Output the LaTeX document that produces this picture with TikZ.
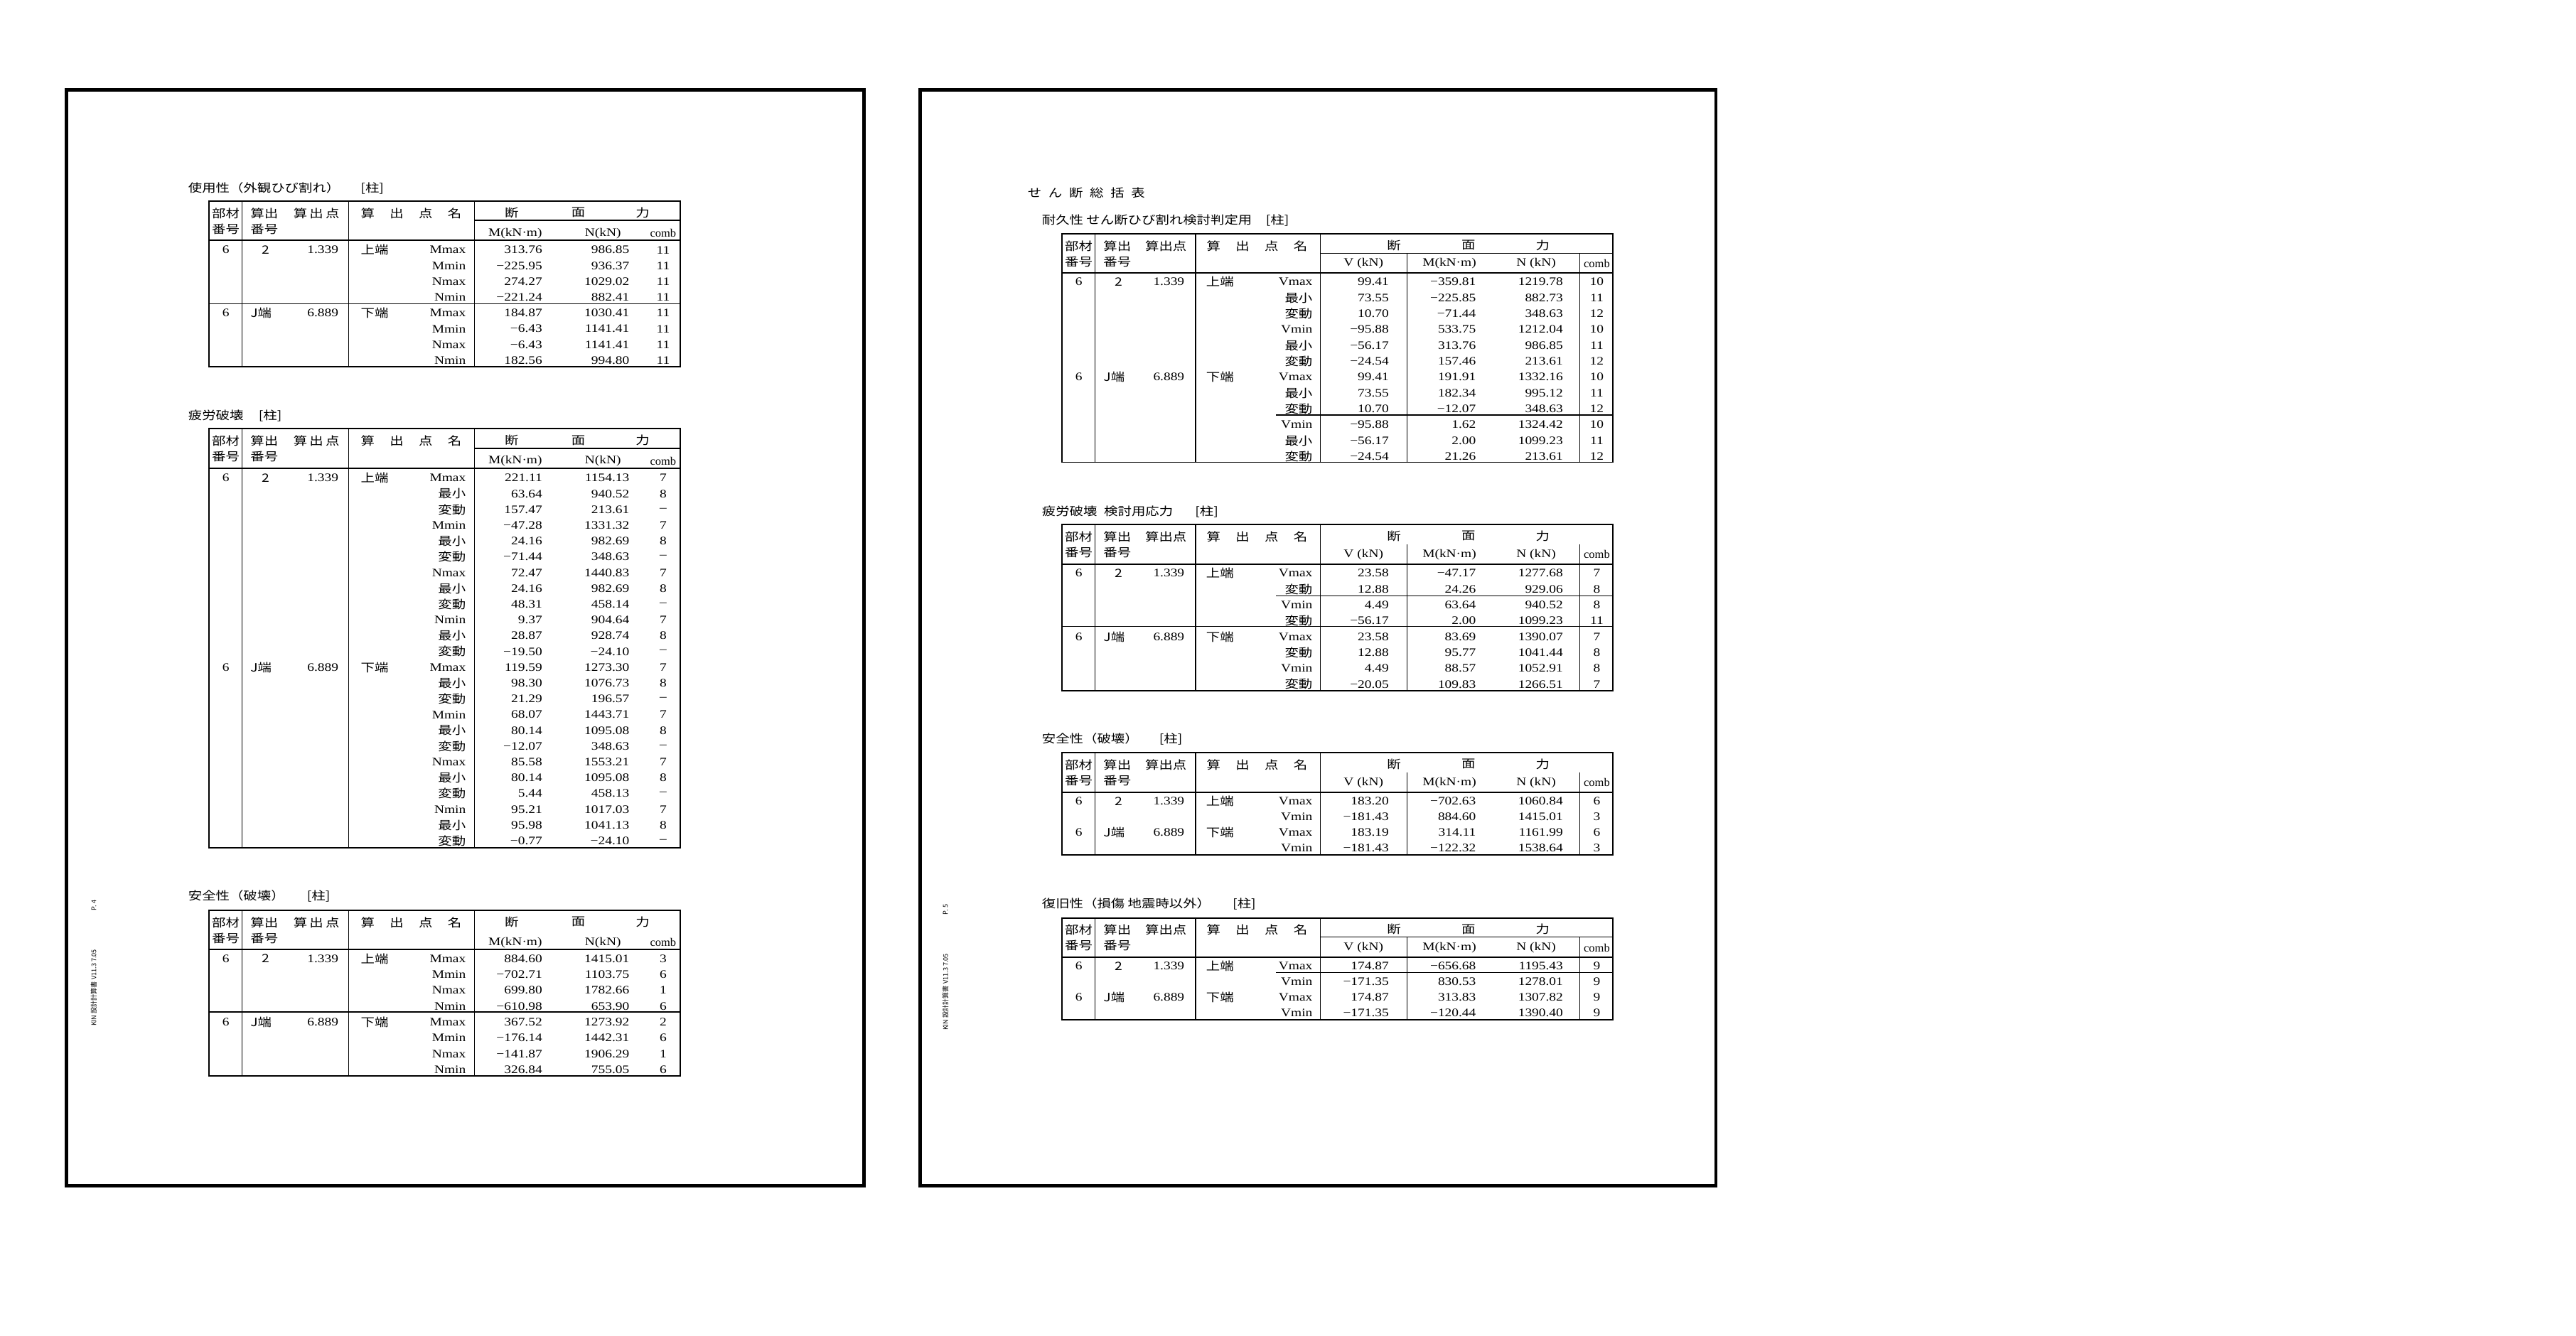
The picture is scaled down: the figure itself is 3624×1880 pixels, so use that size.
\documentclass[tikz,border=0pt]{standalone}
\usepackage{fontspec}
\setmainfont{Liberation Serif}
\newfontfamily\jp{Noto Sans CJK JP}
\usetikzlibrary{positioning}
\newcommand\saisho{{\jp 最小}}
\newcommand\hendo{{\jp 変動}}
\tikzset{
    pagebox/.style={
        draw,
        line width=1.4pt,
    },
    frame/.style={
        line width=0.55pt,
    },
    rule/.style={
        line width=0.3pt,
    },
    txt/.style={
        inner sep=0pt,
        font=\fontsize{4.6}{5.5}\selectfont,
        xscale=1.2,
    },
    jtxt/.style={
        txt,
        font=\fontsize{4.6}{5.5}\selectfont\jp,
    },
    num/.style={txt, anchor=east},
    combtxt/.style={txt, xscale=0.85},
    title/.style={jtxt, anchor=west},
    sidetxt/.style={
        inner sep=0pt,
        rotate=90,
        font=\fontsize{2.6}{3}\selectfont\jp,
    },
}
\begin{document}
\begin{tikzpicture}[x=0.01cm, y=-0.01cm]
      \useasboundingbox (0,0) rectangle (3624,1880);
      % two pages
      \draw[pagebox] (93.8,126.5) rectangle (1215.8,1668.5);
      \draw[pagebox] (1294.4,126.5) rectangle (2414,1668.5);
      \node[sidetxt] (pnoL) at (132,1274) {P. 4};
      \node[sidetxt] (footL) at (132,1390) {KIN 設計計算書 V11.3 7.05};
      \node[sidetxt] (pnoR) at (1330,1280) {P. 5};
      \node[sidetxt] (footR) at (1330,1396) {KIN 設計計算書 V11.3 7.05};

      % left page titles
      \node[title] (tA) at (264,265) {使用性（外観ひび割れ）\hspace{1.5em}[柱]};
      \node[title] (tB) at (264,585) {疲労破壊\hspace{1.1em}[柱]};
      \node[title] (tC) at (264,1260.7) {安全性（破壊）\hspace{1.6em}[柱]};

      % left page frames
      \foreach \t/\ty/\by in {A/282.7/516, B/603.3/1192.7, C/1280.7/1514}{
        \draw[frame] (294.3,\ty) rectangle (956.8,\by);
        \draw[frame] (294.3,{\ty+55.3}) -- (956.8,{\ty+55.3});
        \foreach \xx in {340.5,490.9,667.1} \draw[rule] (\xx,\ty) -- (\xx,\by);
        \node[jtxt] (\t-h1) at (317.6,{\ty+17.5}) {部材};
        \node[jtxt] (\t-h2) at (317.6,{\ty+39.5}) {番号};
        \node[jtxt, anchor=west] (\t-h3) at (351.5,{\ty+17.5}) {算出};
        \node[jtxt, anchor=west] (\t-h4) at (351.5,{\ty+39.5}) {番号};
        \node[jtxt] (\t-h5) at (445.1,{\ty+17.5}) {算\,出\,点};
        \node[jtxt] (\t-h6) at (578.5,{\ty+17.5}) {算\hspace{1.1em}出\hspace{1.1em}点\hspace{1.1em}名};
        \node[jtxt] (\t-h7) at (719.8,{\ty+16.5}) {断};
        \node[jtxt] (\t-h8) at (813.5,{\ty+16.5}) {面};
        \node[jtxt] (\t-h9) at (904,{\ty+16.5}) {力};
        \node[txt] (\t-hm) at (724.8,{\ty+45.5}) {M(kN·m)};
        \node[txt] (\t-hn) at (848.3,{\ty+45.5}) {N(kN)};
        \node[combtxt] (\t-hc) at (932.9,{\ty+45.5}) {comb};
      }
      \draw[rule] (667.1,310) -- (956.8,310);
      \draw[rule] (667.1,631) -- (956.8,631);
      \draw[rule] (294.3,427.3) -- (956.8,427.3);
      \draw[rule] (294.3,1424) -- (956.8,1424);

      % left page data
      \foreach \t/\ry/\ra/\px/\pa/\rb/\rc in {A/351.7/2/373.4/center/1.339/上端,
          A/440.5/J端/351.5/west/6.889/下端, B/672.7/2/373.4/center/1.339/上端,
          B/939.3/J端/351.5/west/6.889/下端, C/1349/2/373.4/center/1.339/上端,
          C/1438.3/J端/351.5/west/6.889/下端}{
        \node[txt] (\t-no\ry) at (317.6,\ry) {6};
        \node[jtxt, anchor=\pa] (\t-pt\ry) at (\px,\ry) {\ra};
        \node[num] (\t-x\ry) at (476.9,\ry) {\rb};
        \node[jtxt, anchor=west] (\t-nm\ry) at (506.8,\ry) {\rc};
      }
      \foreach \lab/\mv/\nv/\cb [count=\i] in {Mmax/313.76/986.85/11, Mmin/−225.95/936.37/11,
          Nmax/274.27/1029.02/11, Nmin/−221.24/882.41/11, Mmax/184.87/1030.41/11,
          Mmin/−6.43/1141.41/11, Nmax/−6.43/1141.41/11, Nmin/182.56/994.80/11}{
        \pgfmathsetmacro\ry{351.7+(\i-1)*22.2}
        \node[num] (A-l\i) at (656.1,\ry) {\lab};
        \node[num] (A-m\i) at (763.6,\ry) {\mv};
        \node[num] (A-n\i) at (886.1,\ry) {\nv};
        \node[txt] (A-c\i) at (932.9,\ry) {\cb};
      }
      \foreach \lab/\mv/\nv/\cb [count=\i] in {Mmax/221.11/1154.13/7, \saisho/63.64/940.52/8,
          \hendo/157.47/213.61/–, Mmin/−47.28/1331.32/7, \saisho/24.16/982.69/8,
          \hendo/−71.44/348.63/–, Nmax/72.47/1440.83/7, \saisho/24.16/982.69/8,
          \hendo/48.31/458.14/–, Nmin/9.37/904.64/7, \saisho/28.87/928.74/8,
          \hendo/−19.50/−24.10/–, Mmax/119.59/1273.30/7, \saisho/98.30/1076.73/8,
          \hendo/21.29/196.57/–, Mmin/68.07/1443.71/7, \saisho/80.14/1095.08/8,
          \hendo/−12.07/348.63/–, Nmax/85.58/1553.21/7, \saisho/80.14/1095.08/8,
          \hendo/5.44/458.13/–, Nmin/95.21/1017.03/7, \saisho/95.98/1041.13/8,
          \hendo/−0.77/−24.10/–}{
        \pgfmathsetmacro\ry{672.7+(\i-1)*22.2}
        \node[num] (B-l\i) at (656.1,\ry) {\lab};
        \node[num] (B-m\i) at (763.6,\ry) {\mv};
        \node[num] (B-n\i) at (886.1,\ry) {\nv};
        \node[txt] (B-c\i) at (932.9,\ry) {\cb};
      }
      \foreach \lab/\mv/\nv/\cb [count=\i] in {Mmax/884.60/1415.01/3, Mmin/−702.71/1103.75/6,
          Nmax/699.80/1782.66/1, Nmin/−610.98/653.90/6, Mmax/367.52/1273.92/2,
          Mmin/−176.14/1442.31/6, Nmax/−141.87/1906.29/1, Nmin/326.84/755.05/6}{
        \pgfmathsetmacro\ry{1349+(\i-1)*22.3}
        \node[num] (C-l\i) at (656.1,\ry) {\lab};
        \node[num] (C-m\i) at (763.6,\ry) {\mv};
        \node[num] (C-n\i) at (886.1,\ry) {\nv};
        \node[txt] (C-c\i) at (932.9,\ry) {\cb};
      }

      % right page titles
      \node[title] (tSum) at (1445,271.7) {せ\hspace{.5em}ん\hspace{.5em}断\hspace{.5em}総\hspace{.5em}括\hspace{.5em}表};
      \node[title] (tD) at (1465,310) {耐久性 せん断ひび割れ検討判定用\hspace{1em}[柱]};
      \node[title] (tE) at (1465,720) {疲労破壊\hspace{.5em}検討用応力\hspace{1.6em}[柱]};
      \node[title] (tF) at (1465,1040) {安全性（破壊）\hspace{1.5em}[柱]};
      \node[title] (tG) at (1465,1271.7) {復旧性（損傷 地震時以外）\hspace{1.6em}[柱]};

      % right page frames
      \foreach \t/\ty/\by in {D/329/650.5, E/738.3/971.7, F/1059.3/1203.3, G/1291.7/1435}{
        \draw[frame] (1494.3,\ty) rectangle (2269.4,\by);
        \draw[frame] (1494.3,{\ty+55.3}) -- (2269.4,{\ty+55.3});
        \foreach \xx in {1540.9,1682,1857.2} \draw[rule] (\xx,\ty) -- (\xx,\by);
        \foreach \xx in {1979.9,2222.3} \draw[rule] (\xx,{\ty+27.5}) -- (\xx,\by);
        \node[jtxt] (\t-h1) at (1517.6,{\ty+17}) {部材};
        \node[jtxt] (\t-h2) at (1517.6,{\ty+39}) {番号};
        \node[jtxt, anchor=west] (\t-h3) at (1551.6,{\ty+17}) {算出};
        \node[jtxt, anchor=west] (\t-h4) at (1551.6,{\ty+39}) {番号};
        \node[jtxt] (\t-h5) at (1640.2,{\ty+17}) {算出点};
        \node[jtxt] (\t-h6) at (1768.4,{\ty+17}) {算\hspace{1.1em}出\hspace{1.1em}点\hspace{1.1em}名};
        \node[jtxt] (\t-h7) at (1961,{\ty+16}) {断};
        \node[jtxt] (\t-h8) at (2065.8,{\ty+16}) {面};
        \node[jtxt] (\t-h9) at (2170.3,{\ty+16}) {力};
        \node[txt] (\t-hv) at (1918.2,{\ty+42}) {V (kN)};
        \node[txt] (\t-hm) at (2039,{\ty+42}) {M(kN·m)};
        \node[txt] (\t-hn) at (2161.1,{\ty+42}) {N (kN)};
        \node[combtxt] (\t-hc) at (2246.4,{\ty+42}) {comb};
      }
      \draw[rule] (1857.2,356.7) -- (2269.4,356.7);
      \draw[rule] (1857.2,1318.3) -- (2269.4,1318.3);
      \draw[rule] (1795.2,584) -- (2269.4,584);
      \draw[rule] (1795.2,838.3) -- (2269.4,838.3);
      \draw[rule] (1494.3,881.7) -- (2269.4,881.7);
      \draw[rule] (1795.2,1368.3) -- (2269.4,1368.3);

      % right page data
      \foreach \t/\ry/\ra/\px/\pa/\rb/\rc in {D/396.7/2/1573.5/center/1.339/上端,
          D/530.7/J端/1551.6/west/6.889/下端, E/806.7/2/1573.5/center/1.339/上端,
          E/895.9/J端/1551.6/west/6.889/下端, F/1127.3/2/1573.5/center/1.339/上端,
          F/1171.3/J端/1551.6/west/6.889/下端, G/1359.3/2/1573.5/center/1.339/上端,
          G/1403.1/J端/1551.6/west/6.889/下端}{
        \node[txt] (\t-no\ry) at (1517.6,\ry) {6};
        \node[jtxt, anchor=\pa] (\t-pt\ry) at (\px,\ry) {\ra};
        \node[num] (\t-x\ry) at (1667,\ry) {\rb};
        \node[jtxt, anchor=west] (\t-nm\ry) at (1696,\ry) {\rc};
      }
      \foreach \t/\ry/\lab/\vv/\mv/\nv/\cb in {
          D/396.7/Vmax/99.41/−359.81/1219.78/10, D/419.0/\saisho/73.55/−225.85/882.73/11,
          D/441.4/\hendo/10.70/−71.44/348.63/12, D/463.7/Vmin/−95.88/533.75/1212.04/10,
          D/486.0/\saisho/−56.17/313.76/986.85/11, D/508.4/\hendo/−24.54/157.46/213.61/12,
          D/530.7/Vmax/99.41/191.91/1332.16/10, D/553.0/\saisho/73.55/182.34/995.12/11,
          D/575.3/\hendo/10.70/−12.07/348.63/12, D/597.7/Vmin/−95.88/1.62/1324.42/10,
          D/620.0/\saisho/−56.17/2.00/1099.23/11, D/642.3/\hendo/−24.54/21.26/213.61/12,
          E/806.7/Vmax/23.58/−47.17/1277.68/7, E/829.0/\hendo/12.88/24.26/929.06/8,
          E/851.3/Vmin/4.49/63.64/940.52/8, E/873.6/\hendo/−56.17/2.00/1099.23/11,
          E/895.9/Vmax/23.58/83.69/1390.07/7, E/918.2/\hendo/12.88/95.77/1041.44/8,
          E/940.5/Vmin/4.49/88.57/1052.91/8, E/962.8/\hendo/−20.05/109.83/1266.51/7,
          F/1127.3/Vmax/183.20/−702.63/1060.84/6, F/1149.3/Vmin/−181.43/884.60/1415.01/3,
          F/1171.3/Vmax/183.19/314.11/1161.99/6, F/1193.3/Vmin/−181.43/−122.32/1538.64/3,
          G/1359.3/Vmax/174.87/−656.68/1195.43/9, G/1381.2/Vmin/−171.35/830.53/1278.01/9,
          G/1403.1/Vmax/174.87/313.83/1307.82/9, G/1425.0/Vmin/−171.35/−120.44/1390.40/9}{
        \node[num] (\t-l\ry) at (1847.2,\ry) {\lab};
        \node[num] (\t-v\ry) at (1954.7,\ry) {\vv};
        \node[num] (\t-m\ry) at (2077.2,\ry) {\mv};
        \node[num] (\t-n\ry) at (2199.7,\ry) {\nv};
        \node[txt] (\t-c\ry) at (2246.4,\ry) {\cb};
      }
    \end{tikzpicture}
\end{document}
